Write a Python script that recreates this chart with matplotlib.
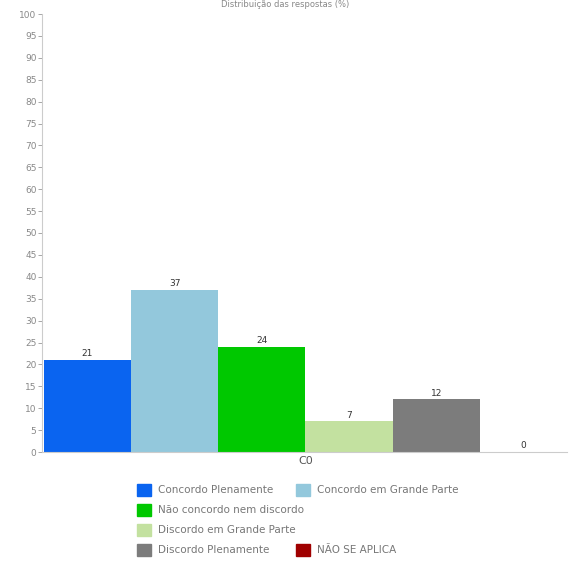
import numpy as np
import matplotlib
matplotlib.use("Agg")
from matplotlib import pyplot as plt
from matplotlib.patches import Rectangle

categories = ["Concordo Plenamente", "Concordo em Grande Parte",
              "Não concordo nem discordo", "Discordo em Grande Parte",
              "Discordo Plenamente", "NÃO SE APLICA"]
values = [21, 37, 24, 7, 12, 0]
colors = ["#0a64f0", "#93c8dc", "#00c800", "#c3e1a0", "#7c7c7c", "#a00000"]
group_label = "C0"
title = "Distribuição das respostas (%)"

plt.rcParams['font.family'] = ['DejaVu Sans']

fig = plt.figure(figsize=(5.71, 5.65), dpi=100)
ax = fig.add_axes([42/571, 113/565, 525/571, 438/565])

x = np.arange(len(values))
ax.bar(x, values, width=1.0, color=colors)
for xi, v in zip(x, values):
    ax.text(xi, v + 0.4, str(v), ha='center', va='bottom', fontsize=6.5, color='#333333')

ax.set_xlim(-0.52, 5.5)
ax.set_ylim(0, 100)
ax.set_yticks(np.arange(0, 101, 5))
ax.tick_params(axis='y', labelsize=6.5, colors='#999999', length=3, width=0.6, pad=1)
ax.tick_params(axis='y', labelcolor='#888888')
ax.set_xticks([2.5])
ax.set_xticklabels([group_label], fontsize=8, color='#555555')
ax.tick_params(axis='x', length=0, pad=3)
for s in ['top', 'right']:
    ax.spines[s].set_visible(False)
for s in ['left', 'bottom']:
    ax.spines[s].set_color('#cccccc')
    ax.spines[s].set_linewidth(0.8)

fig.text(0.5, 1.0, title, ha='center', va='top', fontsize=6, color='#888888')

# legend laid out in rows like the original
rows = [[0, 1], [2], [3], [4, 5]]
row_y = [490, 510, 530, 550]
col_x = {0: 137, 1: 296, 2: 137, 3: 137, 4: 137, 5: 296}
for r, yy in zip(rows, row_y):
    for i in r:
        px = col_x[i]
        fig.patches.append(Rectangle((px/571, 1 - (yy + 6)/565), 14/571, 12/565,
                                     transform=fig.transFigure, color=colors[i]))
        fig.text((px + 21)/571, 1 - yy/565, categories[i], ha='left', va='center',
                 fontsize=7.5, color='#777777')

fig.savefig("out.png", dpi=100)
